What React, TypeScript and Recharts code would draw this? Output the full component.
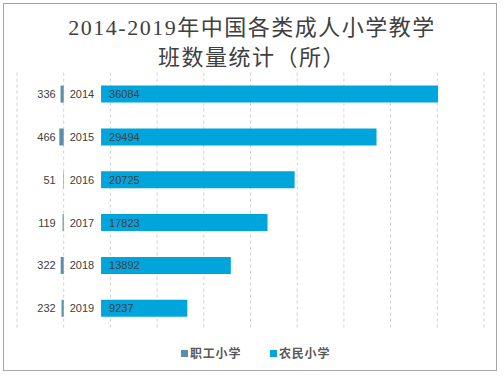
import React from 'react';
import { BarChart, Bar, XAxis, YAxis, CartesianGrid, LabelList } from 'recharts';

const years = ['2014', '2015', '2016', '2017', '2018', '2019'];
const workerSchools = [336, 466, 51, 119, 322, 232];
const farmerSchools = [36084, 29494, 20725, 17823, 13892, 9237];
const labelGap = 4000;
const xTicks = [-5000, 0, 5000, 10000, 15000, 20000, 25000, 30000, 35000, 40000, 45000];

const data = years.map((y, i) => ({
  year: y,
  worker: -workerSchools[i],
  gap: labelGap,
  farmer: farmerSchools[i],
}));

const WORKER_COLOR = '#5B8EA9';
const FARMER_COLOR = '#00A5DB';
const TEXT = '#404040';

const WorkerLabel = (props: any) => {
  const { x, y, width, height, value } = props;
  const zero = Math.max(Number(x), Number(x) + Number(width));
  return (
    <text
      x={zero - 8}
      y={Number(y) + Number(height) / 2}
      textAnchor="end"
      dominantBaseline="central"
      fill={TEXT}
      fontSize={11}
      fontFamily="Liberation Sans, Arial, sans-serif"
    >
      {Math.abs(Number(value))}
    </text>
  );
};

export default function App() {
  return (
    <div style={{ position: 'absolute', left: 0, top: 0, width: 504, height: 378, background: '#fff' }}>
      <div
        style={{
          position: 'absolute',
          left: 3,
          top: 3,
          width: 494,
          height: 368,
          border: '1px solid #A6A6A6',
          boxSizing: 'border-box',
        }}
      />
      <div
        style={{
          position: 'absolute',
          left: 0,
          top: 13,
          width: 504,
          textAlign: 'center',
          fontFamily: '"Liberation Serif", "Noto Sans CJK SC", serif',
          fontSize: 22,
          lineHeight: '30px',
          letterSpacing: 1.5,
          color: TEXT,
        }}
      >
        <div>2014-2019年中国各类成人小学教学</div>
        <div>班数量统计（所）</div>
      </div>
      <div style={{ position: 'absolute', left: 0, top: 0 }}>
        <BarChart
          width={504}
          height={378}
          data={data}
          layout="vertical"
          stackOffset="sign"
          margin={{ top: 72.6, right: 20, bottom: 48.4, left: 17 }}
        >
          <CartesianGrid horizontal={false} vertical={true} stroke="#D0D0D0" strokeDasharray="3 3" />
          <XAxis type="number" domain={[-5000, 45000]} ticks={xTicks} hide />
          <YAxis type="category" dataKey="year" hide />
          <Bar dataKey="worker" stackId="a" fill={WORKER_COLOR} barSize={17} isAnimationActive={false}>
            <LabelList dataKey="worker" content={WorkerLabel} />
          </Bar>
          <Bar dataKey="gap" stackId="a" fill="transparent" barSize={17} isAnimationActive={false}>
            <LabelList
              dataKey="year"
              position="insideLeft"
              offset={6}
              fill={TEXT}
              fontSize={11}
              fontFamily="Liberation Sans, Arial, sans-serif"
            />
          </Bar>
          <Bar dataKey="farmer" stackId="a" fill={FARMER_COLOR} barSize={17} isAnimationActive={false}>
            <LabelList
              dataKey="farmer"
              position="insideLeft"
              offset={8}
              fill={TEXT}
              fontSize={11}
              fontFamily="Liberation Sans, Arial, sans-serif"
            />
          </Bar>
        </BarChart>
      </div>
      <div
        style={{
          position: 'absolute',
          top: 345,
          left: 0,
          width: 504,
          height: 16,
          fontFamily: '"Noto Sans CJK SC", sans-serif',
          fontSize: 12,
          fontWeight: 'bold',
          color: '#595959',
          lineHeight: '16px',
        }}
      >
        <div style={{ position: 'absolute', left: 181, top: 0, display: 'flex', alignItems: 'center' }}>
          <span style={{ width: 7, height: 7, background: WORKER_COLOR, display: 'inline-block', marginRight: 2 }} />
          <span style={{ letterSpacing: 0.8 }}>职工小学</span>
        </div>
        <div style={{ position: 'absolute', left: 270, top: 0, display: 'flex', alignItems: 'center' }}>
          <span style={{ width: 7, height: 7, background: FARMER_COLOR, display: 'inline-block', marginRight: 2 }} />
          <span style={{ letterSpacing: 0.8 }}>农民小学</span>
        </div>
      </div>
    </div>
  );
}
